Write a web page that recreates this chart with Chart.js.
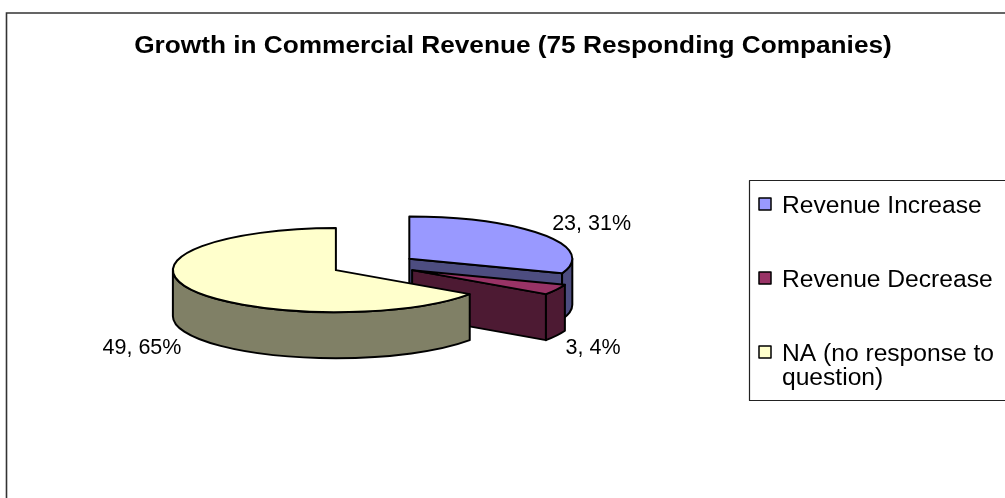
<!DOCTYPE html>
<html>
<head>
<meta charset="utf-8">
<script src="https://cdn.jsdelivr.net/npm/chart.js@4.4.1/dist/chart.umd.min.js"></script>
<style>
  html, body { margin: 0; padding: 0; background: #fff; }
  canvas { display: block; }
</style>
</head>
<body>
<canvas id="chart" width="1005" height="498"></canvas>
<script>
const chartTitle = 'Growth in Commercial Revenue (75 Responding Companies)';
const categories = ['Revenue Increase', 'Revenue Decrease', 'NA (no response to question)'];
const companies = [23, 3, 49];
const topColors = ['#9999FF', '#993366', '#FFFFCC'];
const sideColors = ['#4D4D80', '#4D1A33', '#808066'];

const TILT = 0.258;   // vertical squash of the disc
const DEPTH = 46;     // disc thickness
const EXPLODE = 43;   // distance each slice is pulled out from the centre
const FONT = '"Liberation Sans", Arial, sans-serif';

const total = companies.reduce((a, b) => a + b, 0);

function ringPoint(ax, ay, r, angle) {
  return [ax + r * Math.cos(angle), ay + r * TILT * Math.sin(angle)];
}

function sliceApex(arc) {
  const mid = (arc.startAngle + arc.endAngle) / 2;
  return [arc.x + EXPLODE * Math.cos(mid), arc.y + EXPLODE * TILT * Math.sin(mid)];
}

function outline(ctx) {
  ctx.lineWidth = 2;
  ctx.strokeStyle = '#000';
  ctx.lineJoin = 'round';
  ctx.stroke();
}

// side faces of one slice: the cut faces turned towards us and the front rim
function drawWalls(ctx, arc, color) {
  const [ax, ay] = sliceApex(arc);
  const r = arc.outerRadius;
  const a0 = arc.startAngle, a1 = arc.endAngle;
  ctx.fillStyle = color;

  const cutFace = (angle) => {
    const [px, py] = ringPoint(ax, ay, r, angle);
    ctx.beginPath();
    ctx.moveTo(ax, ay);
    ctx.lineTo(px, py);
    ctx.lineTo(px, py + DEPTH);
    ctx.lineTo(ax, ay + DEPTH);
    ctx.closePath();
    ctx.fill();
    outline(ctx);
  };
  if (Math.cos(a0) < -1e-3) cutFace(a0);
  if (Math.cos(a1) > 1e-3) cutFace(a1);

  for (const base of [0, 2 * Math.PI]) {
    const t0 = Math.max(a0, base), t1 = Math.min(a1, base + Math.PI);
    if (t1 <= t0) continue;
    const [x1, y1] = ringPoint(ax, ay, r, t1);
    ctx.beginPath();
    ctx.ellipse(ax, ay, r, r * TILT, 0, t0, t1);
    ctx.lineTo(x1, y1 + DEPTH);
    ctx.ellipse(ax, ay + DEPTH, r, r * TILT, 0, t1, t0, true);
    ctx.closePath();
    ctx.fill();
    outline(ctx);
  }
}

// pie drawn as a tilted, exploded disc
class Exploded3DPie extends Chart.PieController {
  draw() {
    const ctx = this.chart.ctx;
    const arcs = this._cachedMeta.data;
    arcs.forEach((arc, i) => {
      drawWalls(ctx, arc, sideColors[i]);
      const [ax, ay] = sliceApex(arc);
      ctx.save();
      ctx.translate(ax, ay);
      ctx.scale(1, TILT);
      ctx.translate(-arc.x, -arc.y);
      arc.draw(ctx);
      ctx.restore();
      ctx.beginPath();
      ctx.moveTo(ax, ay);
      ctx.ellipse(ax, ay, arc.outerRadius, arc.outerRadius * TILT, 0, arc.startAngle, arc.endAngle);
      ctx.closePath();
      outline(ctx);
    });
  }
}
Exploded3DPie.id = 'pie3d';
Chart.register(Exploded3DPie);

function stretchedText(ctx, text, x, y, sx, align) {
  ctx.save();
  ctx.translate(x, y);
  ctx.scale(sx, 1);
  ctx.textAlign = align;
  ctx.textBaseline = 'alphabetic';
  ctx.fillText(text, 0, 0);
  ctx.restore();
}

function wrapWords(ctx, text, maxWidth) {
  const lines = [];
  let line = '';
  for (const word of text.split(' ')) {
    const test = line ? line + ' ' + word : word;
    if (line && ctx.measureText(test).width > maxWidth) {
      lines.push(line);
      line = word;
    } else {
      line = test;
    }
  }
  lines.push(line);
  return lines;
}

const framePlugin = {
  id: 'frame',
  beforeDraw(chart) {
    const ctx = chart.ctx;
    ctx.save();
    ctx.fillStyle = '#fff';
    ctx.fillRect(0, 0, chart.width, chart.height);
    ctx.beginPath();
    ctx.moveTo(6.5, chart.height);
    ctx.lineTo(6.5, 13);
    ctx.lineTo(chart.width, 13);
    ctx.lineWidth = 1.6;
    ctx.strokeStyle = '#333';
    ctx.stroke();
    ctx.restore();
  }
};

const textPlugin = {
  id: 'texts',
  afterDraw(chart) {
    const ctx = chart.ctx;
    ctx.save();
    ctx.fillStyle = '#000';

    // title
    ctx.font = 'bold 23px ' + FONT;
    stretchedText(ctx, chartTitle, 513, 53, 1.14, 'center');

    // data labels beside each slice
    ctx.font = '21.5px ' + FONT;
    const arcs = chart.getDatasetMeta(0).data;
    arcs.forEach((arc, i) => {
      const mid = (arc.startAngle + arc.endAngle) / 2;
      const [ax, ay] = sliceApex(arc);
      let [px, py] = ringPoint(ax, ay, arc.outerRadius, mid);
      const front = Math.sin(mid) > 0;
      const right = Math.cos(mid) > 0;
      if (front) py += DEPTH;
      const pct = Math.round(companies[i] / total * 100);
      stretchedText(ctx, companies[i] + ', ' + pct + '%',
        px + (right ? 9 : -10), py + (front ? 18 : -5), 1, right ? 'left' : 'right');
    });

    // legend
    const boxL = 749.5, boxT = 180.5, boxB = 400.5;
    ctx.lineWidth = 1.2;
    ctx.strokeStyle = '#222';
    ctx.strokeRect(boxL, boxT, 400, boxB - boxT);
    ctx.font = '23px ' + FONT;
    const sx = 1.07;
    let baseline = 213;
    categories.forEach((label, i) => {
      ctx.fillStyle = topColors[i];
      ctx.fillRect(759, baseline - 15, 12, 12);
      ctx.lineWidth = 1.5;
      ctx.strokeStyle = '#000';
      ctx.strokeRect(759, baseline - 15, 12, 12);
      ctx.fillStyle = '#000';
      const lines = wrapWords(ctx, label, 222 / sx);
      lines.forEach((line, k) => stretchedText(ctx, line, 782, baseline + k * 24, sx, 'left'));
      baseline += 74;
    });
    ctx.restore();
  }
};

new Chart(document.getElementById('chart'), {
  type: 'pie3d',
  data: {
    labels: categories,
    datasets: [{
      data: companies,
      backgroundColor: topColors,
      borderWidth: 0,
      radius: 163,
      clip: false
    }]
  },
  options: {
    responsive: false,
    animation: false,
    events: [],
    layout: { padding: { left: 20, right: 277, top: 40, bottom: 8 } },
    plugins: {
      legend: { display: false },
      title: { display: false },
      tooltip: { enabled: false }
    }
  },
  plugins: [framePlugin, textPlugin]
});
</script>
</body>
</html>
